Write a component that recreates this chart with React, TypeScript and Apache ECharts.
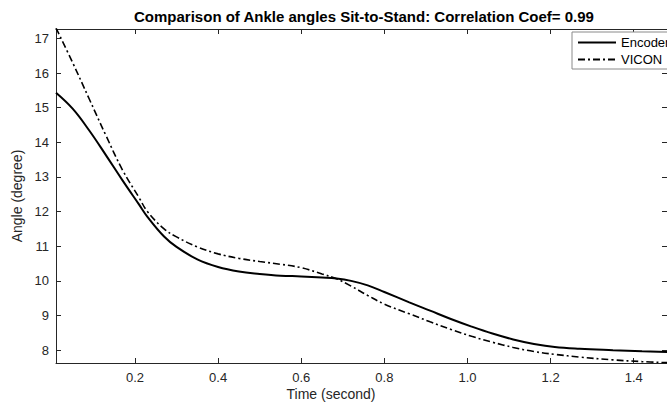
import React, { useEffect, useRef } from "react";
import * as echarts from "echarts";

const timeValues = [0.01, 0.05, 0.09, 0.13, 0.17, 0.21, 0.23, 0.27, 0.3, 0.35, 0.4, 0.45, 0.5, 0.55, 0.6, 0.65, 0.685, 0.72, 0.76, 0.8, 0.86, 0.91, 0.96, 1.01, 1.06, 1.11, 1.16, 1.21, 1.27, 1.35, 1.42, 1.48];
const encoderValues = [15.43, 14.97, 14.34, 13.63, 12.9, 12.2, 11.85, 11.28, 10.98, 10.62, 10.4, 10.27, 10.2, 10.15, 10.13, 10.1, 10.07, 10.0, 9.87, 9.68, 9.38, 9.14, 8.9, 8.68, 8.48, 8.31, 8.18, 8.09, 8.04, 8.0, 7.97, 7.95];
const viconValues = [17.3, 16.3, 15.25, 14.2, 13.2, 12.4, 12.0, 11.5, 11.27, 10.98, 10.78, 10.65, 10.56, 10.48, 10.38, 10.2, 10.06, 9.85, 9.58, 9.33, 9.05, 8.82, 8.6, 8.4, 8.23, 8.08, 7.96, 7.88, 7.8, 7.72, 7.67, 7.64];
const xTicks = [0.2, 0.4, 0.6, 0.8, 1.0, 1.2, 1.4];
const yTicks = [8, 9, 10, 11, 12, 13, 14, 15, 16, 17];

const FONT = "'Liberation Sans', Arial, sans-serif";
const AX = "#262626";

export default function App() {
  const ref = useRef<HTMLDivElement>(null);
  useEffect(() => {
    if (!ref.current) return;
    const chart = echarts.init(ref.current, undefined, { renderer: "svg" });
    const pair = (vals: number[]) => timeValues.map((t, i) => [t, vals[i]]);
    const axisLine = { show: true, lineStyle: { color: AX, width: 1 } };
    const tick = (vals: number[]) => ({ show: true, inside: true, length: 5, customValues: vals, lineStyle: { color: AX } });
    chart.setOption({
      animation: false,
      backgroundColor: "#ffffff",
      textStyle: { fontFamily: FONT },
      title: {
        text: "Comparison of Ankle angles Sit-to-Stand: Correlation Coef= 0.99",
        left: 359,
        top: 4,
        textAlign: "center",
        textStyle: { fontFamily: FONT, fontSize: 15, fontWeight: "bold", color: "#000" },
      },
      grid: { left: 56, top: 29, width: 625, height: 334, containLabel: false },
      legend: {
        orient: "vertical",
        left: 572,
        top: 32,
        padding: [4, 8, 3, 5],
        itemWidth: 38,
        itemHeight: 14,
        itemGap: 4,
        backgroundColor: "#fff",
        borderColor: "#8a8a8a",
        borderWidth: 1,
        borderRadius: 0,
        itemStyle: { opacity: 0, borderWidth: 0 },
        textStyle: { fontFamily: FONT, fontSize: 13, color: "#000" },
        data: ["Encoder", "VICON"],
      },
      xAxis: [
        {
          type: "value",
          min: 0.01,
          max: 1.48,
          position: "bottom",
          axisLine,
          axisTick: tick(xTicks),
          splitLine: { show: false },
          axisLabel: {
            customValues: xTicks,
            formatter: (v: number) => v.toFixed(1),
            color: AX,
            fontSize: 13,
            fontFamily: FONT,
            margin: 8,
          },
        },
        {
          type: "value",
          min: 0.01,
          max: 1.48,
          position: "top",
          axisLine,
          axisTick: tick(xTicks),
          splitLine: { show: false },
          axisLabel: { show: false },
        },
      ],
      yAxis: [
        {
          type: "value",
          min: 7.63,
          max: 17.27,
          position: "left",
          name: "Angle (degree)",
          nameLocation: "middle",
          nameGap: 31,
          nameTextStyle: { fontFamily: FONT, fontSize: 14, color: AX },
          axisLine,
          axisTick: tick(yTicks),
          splitLine: { show: false },
          axisLabel: {
            customValues: yTicks,
            color: AX,
            fontSize: 13,
            fontFamily: FONT,
            margin: 7,
          },
        },
        {
          type: "value",
          min: 7.63,
          max: 17.27,
          position: "right",
          axisLine,
          axisTick: tick(yTicks),
          splitLine: { show: false },
          axisLabel: { show: false },
        },
      ],
      graphic: [
        {
          type: "text",
          x: 331,
          y: 387,
          style: { text: "Time (second)", fontFamily: FONT, fontSize: 14, fill: AX, align: "center", textAlign: "center" },
        },
      ],
      series: [
        {
          name: "Encoder",
          type: "line",
          data: pair(encoderValues),
          smooth: 0.4,
          symbol: "none",
          lineStyle: { color: "#000", width: 2, type: "solid" },
          itemStyle: { color: "#000" },
        },
        {
          name: "VICON",
          type: "line",
          data: pair(viconValues),
          smooth: 0.4,
          symbol: "none",
          lineStyle: { color: "#000", width: 1.6, type: [7, 3, 2, 3] },
          itemStyle: { color: "#000" },
        },
      ],
    });
    return () => chart.dispose();
  }, []);
  return <div ref={ref} style={{ position: "fixed", left: 0, top: 0, width: 667, height: 407 }} />;
}
